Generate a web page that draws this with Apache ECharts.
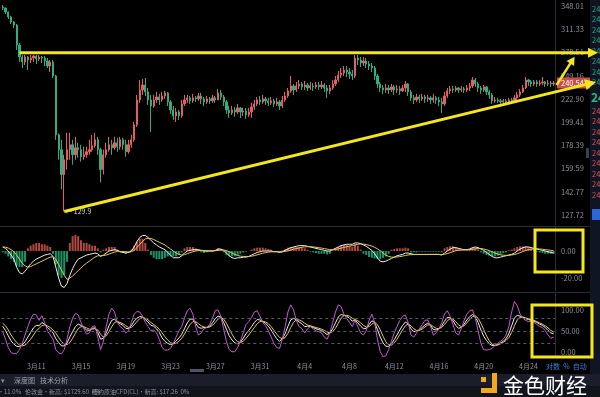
<!DOCTYPE html>
<html>
<head>
<meta charset="utf-8">
<script src="https://cdn.jsdelivr.net/npm/echarts@6/dist/echarts.min.js"></script>
<style>
html, body { margin: 0; padding: 0; background: #000; }
#main { width: 600px; height: 397px; }
</style>
</head>
<body>
<div id="main"></div>
<script>
// 6-hour candles from 3月8 00:00
var firstOpen = 346.4;
var closes = [
    344.8, 338.2, 330.2, 322.3, 317.7, 288.6, 272.5, 266.1, 272.5, 268.6,
    271.2, 273.8, 269.9, 272.5, 271.2, 267.3, 261.0, 266.1, 248.8, 187.6,
    174.7, 155.1, 166.5, 174.7, 178.9, 170.5, 176.3, 174.7, 168.9, 170.5,
    173.0, 174.7, 178.0, 183.2, 174.7, 158.8, 170.5, 174.7, 178.9, 176.3,
    180.6, 177.2, 183.2, 178.9, 173.0, 178.9, 183.2, 196.8, 221.8, 232.7,
    238.3, 230.5, 221.8, 215.5, 221.8, 225.0, 221.8, 226.1, 229.4, 219.7,
    211.4, 205.5, 209.4, 205.5, 217.6, 221.8, 224.0, 220.8, 224.0, 222.9,
    226.1, 222.9, 219.7, 222.9, 220.8, 224.0, 221.8, 229.4, 225.0, 219.7,
    211.4, 208.4, 211.4, 209.4, 213.5, 209.4, 210.4, 206.4, 209.4, 214.5,
    217.6, 221.8, 219.7, 222.9, 220.8, 218.7, 220.8, 217.6, 219.7, 215.5,
    221.8, 226.1, 231.6, 237.2, 232.7, 237.2, 239.5, 236.1, 238.3, 234.9,
    237.2, 236.1, 238.3, 236.1, 238.3, 234.9, 231.6, 234.9, 239.5, 244.1,
    250.0, 252.4, 256.1, 253.6, 251.2, 248.8, 271.2, 268.6, 264.8, 267.3,
    263.5, 261.0, 258.5, 248.8, 239.5, 234.9, 232.7, 234.9, 232.7, 236.1,
    232.7, 233.8, 231.6, 234.9, 239.5, 230.5, 224.0, 221.8, 225.0, 222.9,
    225.0, 222.9, 224.0, 221.8, 224.0, 221.8, 219.7, 217.6, 226.1, 231.6,
    233.8, 232.7, 234.9, 232.7, 233.8, 232.7, 234.9, 237.2, 244.1, 239.5,
    234.9, 232.7, 236.1, 230.5, 227.2, 220.8, 221.8, 220.8, 219.7, 220.8,
    219.7, 221.8, 220.8, 224.0, 227.2, 230.5, 234.9, 244.1, 241.8, 239.5,
    241.8, 239.5, 240.6, 241.8, 239.5, 240.6, 239.5, 240.54
];
var highs = [
    349.7, 344.8, 339.0, 331.8, 323.9, 319.2, 291.4, 275.1, 275.1, 273.8,
    275.1, 275.1, 275.1, 275.1, 273.8, 273.8, 271.2, 268.6, 268.6, 250.0,
    189.0, 183.2, 170.5, 189.4, 189.4, 183.2, 185.8, 180.6, 178.9, 177.2,
    177.2, 183.2, 187.6, 189.4, 185.8, 176.3, 174.7, 180.6, 185.8, 183.2,
    185.8, 184.9, 185.8, 184.9, 183.2, 183.2, 187.6, 199.6, 227.2, 244.1,
    245.3, 246.4, 234.9, 227.2, 227.2, 230.5, 228.3, 230.5, 231.6, 230.5,
    221.8, 215.5, 213.5, 211.4, 221.8, 227.2, 227.2, 226.1, 228.3, 226.1,
    229.4, 229.4, 225.0, 226.1, 225.0, 227.2, 226.1, 233.8, 232.7, 227.2,
    221.8, 215.5, 215.5, 214.5, 217.6, 214.5, 213.5, 213.5, 213.5, 218.7,
    221.8, 225.0, 226.1, 227.2, 225.0, 224.0, 225.0, 222.9, 224.0, 221.8,
    226.1, 230.5, 234.9, 248.8, 239.5, 241.8, 244.1, 241.8, 242.9, 240.6,
    241.8, 240.6, 241.8, 241.8, 242.9, 240.6, 238.3, 238.3, 244.1, 248.8,
    254.8, 258.5, 261.0, 261.0, 258.5, 256.1, 275.1, 275.1, 272.5, 272.5,
    271.2, 267.3, 264.8, 261.0, 251.2, 241.8, 238.3, 239.5, 238.3, 239.5,
    238.3, 238.3, 237.2, 238.3, 242.9, 240.6, 232.7, 227.2, 228.3, 227.2,
    228.3, 227.2, 227.2, 226.1, 228.3, 226.1, 225.0, 224.0, 230.5, 234.9,
    237.2, 237.2, 237.2, 236.1, 237.2, 236.1, 238.3, 240.6, 247.6, 246.4,
    241.8, 237.2, 238.3, 237.2, 232.7, 229.4, 225.0, 224.0, 222.9, 222.9,
    222.9, 224.0, 224.0, 227.2, 230.5, 233.8, 238.3, 247.6, 245.3, 244.1,
    244.1, 244.1, 244.1, 247.6, 242.9, 244.1, 242.9, 242.9
];
var lows = [
    341.5, 335.0, 327.0, 319.2, 313.2, 281.8, 266.1, 258.5, 262.3, 256.1,
    264.8, 266.1, 263.5, 267.3, 264.8, 261.0, 258.5, 253.6, 246.4, 183.2,
    166.5, 144.5, 129.9, 158.8, 166.5, 162.6, 166.5, 168.1, 165.0, 166.5,
    168.1, 170.5, 173.0, 176.3, 170.5, 149.3, 155.1, 168.1, 173.0, 170.5,
    174.7, 173.0, 174.7, 174.7, 168.9, 171.4, 176.3, 181.4, 194.9, 218.7,
    227.2, 226.1, 216.6, 190.3, 213.5, 218.7, 216.6, 219.7, 222.9, 215.5,
    207.4, 201.6, 199.6, 201.6, 203.5, 215.5, 218.7, 217.6, 218.7, 219.7,
    220.8, 217.6, 215.5, 217.6, 217.6, 218.7, 218.7, 221.8, 221.8, 215.5,
    207.4, 203.5, 206.4, 204.5, 207.4, 203.5, 205.5, 202.5, 204.5, 203.5,
    211.4, 215.5, 216.6, 217.6, 216.6, 215.5, 216.6, 214.5, 215.5, 211.4,
    213.5, 219.7, 224.0, 229.4, 227.2, 230.5, 233.8, 232.7, 232.7, 231.6,
    232.7, 231.6, 233.8, 232.7, 233.8, 230.5, 224.0, 228.3, 232.7, 237.2,
    241.8, 246.4, 248.8, 247.6, 245.3, 244.1, 246.4, 262.3, 259.8, 261.0,
    258.5, 256.1, 253.6, 244.1, 234.9, 230.5, 228.3, 229.4, 228.3, 230.5,
    227.2, 229.4, 227.2, 230.5, 230.5, 226.1, 220.8, 217.6, 219.7, 218.7,
    220.8, 218.7, 219.7, 217.6, 218.7, 217.6, 215.5, 208.4, 215.5, 224.0,
    228.3, 229.4, 230.5, 229.4, 230.5, 229.4, 230.5, 231.6, 234.9, 236.1,
    230.5, 228.3, 230.5, 227.2, 222.9, 217.6, 218.7, 218.7, 217.6, 218.7,
    217.6, 218.7, 218.7, 219.7, 221.8, 225.0, 229.4, 233.8, 237.2, 236.1,
    237.2, 236.1, 237.2, 238.3, 236.1, 237.2, 236.1, 237.2
];

// MACD
var difs = [
    3, 2, 0, -3, -6, -12, -16, -17, -15, -12,
    -9.5, -7.5, -6, -5, -4, -3, -2.5, -2, -4, -12,
    -20, -26, -27, -24, -18, -13, -9, -6, -5, -4,
    -3, -2.5, -2, -1.5, -2, -4, -3, -1.5, 0, 0.5,
    1, 0.5, -0.5, -1, -1.5, -1, 0, 3, 7, 10,
    11.5, 11.5, 10, 8, 6, 4.5, 3, 2, 1, -1,
    -3, -5, -5, -5, -3.5, -1.5, 0, 0.5, 1, 1,
    1, 0.5, 0, 0, 0, 0, 0.5, 1.5, 1.5, 0.5,
    -1.5, -3.5, -5, -5.5, -5, -5, -4.5, -4.5, -4, -3,
    -2, -1, -0.5, 0, 0, 0, 0, -0.5, -0.5, -1,
    -0.5, 0.5, 1.5, 2.5, 3, 3.5, 4, 4, 4, 3.5,
    3, 2.5, 2, 1.5, 1, 0.5, 0, 0, 1, 2,
    3, 4, 4.5, 5, 5, 5, 6, 6, 5.5, 4.5,
    3.5, 2, 0.5, -2, -5, -7.5, -8, -7.5, -6.5, -5.5,
    -4.5, -3.5, -3, -2.5, -1.5, -1.5, -2, -2.5, -2.5, -2.5,
    -2.5, -2.5, -2.5, -2.5, -2.5, -2.5, -2.5, -3, -1.5, 0,
    1.5, 2.5, 2.5, 2, 1.5, 1, 1, 1.5, 2.5, 3,
    2.5, 1.5, 0.5, -1, -2.5, -4, -5, -5, -4.5, -4,
    -3.5, -3, -2.5, -1.5, 0, 1.5, 2.5, 3, 3, 2.5,
    2, 1.5, 1, 0.5, 0, -0.5, -1, -1.5
];
var deas = [
    3, 2.8, 2.2, 1, -0.5, -3, -6, -9, -11, -12,
    -11.5, -10.5, -9.5, -8.5, -7.5, -6.5, -5.5, -4.5, -4.3, -6,
    -10, -14, -18, -21, -20, -18.5, -16.5, -14.5, -12.5, -10.5,
    -9, -7.5, -6, -4.5, -3.5, -3.5, -3.3, -3, -2.3, -1.5,
    -0.8, -0.3, -0.3, -0.4, -0.6, -0.8, -0.6, 0.5, 2.5, 5,
    7, 9, 9.5, 9.3, 8.5, 7.5, 6.5, 5.5, 4.5, 3,
    1.5, 0, -1.5, -2.5, -3, -2.7, -2, -1.2, -0.5, 0,
    0.3, 0.5, 0.4, 0.3, 0.2, 0.1, 0.2, 0.5, 0.8, 0.8,
    0.3, -0.5, -1.5, -2.5, -3.3, -3.8, -4, -4, -4, -3.8,
    -3.4, -2.8, -2.2, -1.6, -1.2, -0.8, -0.6, -0.5, -0.5, -0.6,
    -0.6, -0.3, 0.1, 0.7, 1.3, 1.8, 2.3, 2.8, 3.1, 3.2,
    3.2, 3, 2.8, 2.5, 2.2, 1.8, 1.4, 1, 1, 1.2,
    1.6, 2.1, 2.7, 3.2, 3.6, 4, 4.5, 5, 5.2, 5.1,
    4.8, 4.3, 3.7, 2.8, 1.6, 0.2, -1.5, -3, -4, -4.5,
    -4.6, -4.4, -4.1, -3.8, -3.3, -2.9, -2.7, -2.6, -2.6, -2.6,
    -2.6, -2.6, -2.6, -2.5, -2.5, -2.5, -2.5, -2.6, -2.4, -1.9,
    -1.2, -0.5, 0.2, 0.6, 0.8, 0.9, 0.9, 1, 1.3, 1.6,
    1.8, 1.8, 1.5, 1, 0.3, -0.5, -1.4, -2.2, -2.8, -3.1,
    -3.2, -3.1, -2.9, -2.6, -2, -1.2, -0.4, 0.4, 1, 1.4,
    1.6, 1.6, 1.5, 1.3, 1.1, 0.8, 0.5, 0.2
];
var macdHist = [
    -1, -2, -4, -6, -8, -11, -12, -12, -8, 2,
    4, 5, 6, 6, 5, 5, 4, 3, -2, -10,
    -18, -20, -18, -8, 6, 11, 12, 11, 8, 6,
    6, 5, 4, 4, 2, -1, 1, 2, 3, 3,
    3, 1, -1, -1.5, -2, -1, 1, 4, 7, 9,
    9, 6, 1, -3, -5, -6, -6, -6, -5, -4,
    -4, -4, -4, -3, -1, 2, 3, 3, 3, 2,
    1, -1, -1.5, -1, -0.5, -0.5, 0.5, 2, 1.5, -1,
    -3, -4, -4, -4, -3, -2, -1, -0.5, 0, 1,
    2, 2.5, 2.5, 2.5, 2, 1.5, 1, -0.5, -0.5, -1,
    0.5, 1.5, 2.5, 3, 3, 3, 3, 2.5, 2, 1,
    -0.5, -1, -1.5, -2, -2, -2, -2.5, -2, 0.5, 2,
    3, 4, 4.5, 4.5, 4, 3, 5, 4, 1, -2,
    -3, -4.5, -5, -5.5, -6, -6, -5, -4, -2, 1,
    1.5, 2, 2, 2, 2.5, 2, -1, -1, -1, -0.5,
    -0.5, -0.5, -0.5, -0.5, -0.5, -0.5, -0.5, -1, 2, 3,
    3.5, 3.5, 3, 2, 1, 0.5, 0.5, 1.5, 2.5, 2.5,
    1, -1, -2, -3, -3.5, -4, -4, -3.5, -2.5, -1.5,
    -1, 0.5, 1, 2, 3, 3.5, 3.5, 3.5, 3, 2,
    1, -0.5, -1, -1.5, -2, -2, -2, -2
];

// KDJ
var kValues = [
    61, 51, 38, 26, 18, 13, 12, 16, 24, 35,
    46, 57, 63, 62, 70, 66, 58, 52, 45, 31,
    22, 14, 14, 21, 35, 48, 60, 66, 63, 58,
    52, 51, 56, 57, 46, 30, 32, 45, 62, 75,
    78, 71, 67, 63, 56, 55, 62, 73, 80, 84,
    83, 77, 71, 63, 61, 55, 46, 33, 25, 20,
    17, 19, 25, 33, 41, 55, 69, 78, 78, 68,
    58, 56, 58, 58, 61, 69, 79, 85, 83, 70,
    54, 38, 28, 21, 19, 23, 32, 43, 51, 60,
    70, 77, 76, 72, 68, 61, 52, 41, 31, 25,
    31, 43, 61, 76, 80, 76, 71, 67, 60, 61,
    61, 58, 55, 53, 51, 46, 41, 45, 55, 69,
    83, 89, 87, 85, 80, 73, 76, 69, 61, 55,
    56, 65, 74, 70, 53, 35, 21, 13, 13, 19,
    29, 40, 52, 63, 71, 67, 55, 48, 49, 52,
    58, 64, 68, 63, 53, 52, 55, 62, 73, 82,
    81, 74, 63, 56, 58, 66, 76, 84, 89, 84,
    70, 52, 37, 27, 19, 15, 15, 17, 21, 25,
    31, 43, 62, 81, 87, 85, 82, 79, 77, 75,
    73, 70, 66, 63, 58, 51, 45, 43
];
var dValues = [
    68, 62, 52, 40, 30, 22, 16, 14, 16, 22,
    30, 40, 50, 56, 62, 64, 62, 58, 52, 44,
    34, 24, 18, 17, 22, 32, 44, 55, 60, 60,
    57, 54, 54, 55, 52, 42, 35, 38, 48, 60,
    70, 72, 70, 67, 62, 58, 58, 64, 72, 79,
    82, 80, 76, 70, 65, 60, 54, 45, 36, 28,
    22, 19, 20, 25, 32, 42, 54, 65, 72, 72,
    67, 62, 59, 58, 59, 63, 70, 78, 82, 78,
    68, 55, 42, 31, 24, 22, 25, 32, 40, 49,
    58, 67, 72, 73, 71, 67, 60, 51, 42, 34,
    31, 34, 44, 58, 70, 76, 76, 73, 68, 64,
    62, 60, 58, 56, 54, 51, 47, 45, 48, 56,
    68, 80, 86, 87, 85, 80, 77, 74, 69, 63,
    59, 60, 66, 70, 65, 52, 37, 24, 17, 16,
    21, 30, 41, 52, 62, 66, 62, 55, 51, 51,
    54, 59, 64, 65, 60, 56, 55, 58, 65, 74,
    79, 78, 72, 64, 60, 62, 69, 77, 84, 86,
    80, 68, 53, 38, 26, 18, 15, 16, 19, 22,
    27, 34, 46, 62, 76, 82, 83, 81, 79, 77,
    75, 72, 69, 66, 62, 57, 51, 47
];
var jValues = [
    48, 30, 10, -2, -5, -4, 5, 20, 40, 60,
    78, 90, 88, 75, 86, 70, 50, 40, 30, 5,
    -3, -5, 5, 30, 60, 80, 92, 88, 70, 55,
    42, 45, 60, 62, 35, 5, 25, 60, 90, 104,
    95, 70, 60, 55, 45, 50, 70, 90, 96, 95,
    85, 70, 60, 50, 52, 45, 30, 10, 4, 4,
    8, 20, 35, 50, 60, 80, 98, 104, 90, 60,
    40, 45, 55, 58, 65, 80, 98, 100, 85, 55,
    25, 5, 0, 0, 10, 25, 45, 65, 72, 82,
    95, 98, 85, 70, 62, 50, 35, 20, 10, 8,
    30, 60, 95, 112, 100, 75, 60, 55, 45, 55,
    60, 55, 50, 48, 45, 35, 30, 45, 70, 95,
    112, 108, 90, 80, 70, 60, 75, 60, 45, 40,
    50, 75, 90, 70, 30, 0, -12, -10, 5, 25,
    45, 60, 75, 85, 88, 70, 40, 35, 45, 55,
    65, 75, 76, 60, 40, 45, 55, 70, 90, 98,
    85, 65, 45, 40, 55, 75, 90, 98, 100, 80,
    50, 20, 5, 4, 5, 8, 15, 20, 25, 30,
    40, 60, 95, 120, 110, 90, 80, 75, 72, 72,
    70, 65, 60, 58, 50, 40, 32, 35
];

var priceTicks = [127.72, 142.77, 159.59, 178.39, 199.41, 222.90, 249.16, 278.51, 311.33, 348.01];
var macdTicks = [0, -20];
var kdjTicks = [0, 50, 100];
var kdjGuides = [20, 50, 80];
var resistance = 278.1;          // horizontal yellow line
var supportFrom = [22, 129.9];   // rising yellow line, through the low
var supportTo = [142, 192.2];

var categories = [];
for (var i = 0; i < closes.length; i++) {
    var d = new Date(2020, 2, 8, i * 6);
    categories.push((d.getMonth() + 1) + '月' + d.getDate() + ' ' + d.getHours() + ':00');
}

var candleData = closes.map(function (c, i) {
    var o = i === 0 ? firstOpen : closes[i - 1];
    return [Math.log(o), Math.log(c), Math.log(lows[i]), Math.log(highs[i])];
});

var UP = '#e25f62', DOWN = '#2fae84';
var YELLOW = '#f3e61e';
var LABEL = '#8d919c';
var FONT = '"Noto Sans CJK SC", "Noto Sans", sans-serif';

function catAxis(idx, showLabel) {
    return {
        type: 'category', gridIndex: idx, data: categories, boundaryGap: true,
        axisLine: { show: false }, axisTick: { show: false }, splitLine: { show: false },
        axisLabel: {
            show: showLabel, color: LABEL, fontSize: 7, margin: 5,
            interval: function (n) { return n % 16 === 12; },
            formatter: function (v) { return v.split(' ')[0]; }
        }
    };
}

var option = {
    backgroundColor: '#000',
    animation: false,
    textStyle: { fontFamily: FONT },
    grid: [
        { left: 1.3, right: 45, top: 0, height: 225 },
        { left: 1.3, right: 45, top: 227, height: 64 },
        { left: 1.3, right: 45, top: 294, height: 64 }
    ],
    xAxis: [catAxis(0, false), catAxis(1, false), catAxis(2, true)],
    yAxis: [
        {
            type: 'value', gridIndex: 0, position: 'right', scale: true,
            min: Math.log(121.74), max: Math.log(358.2),
            axisLine: { show: true, lineStyle: { color: '#2c2f3a' } },
            axisTick: { show: false }, splitLine: { show: false },
            axisLabel: {
                color: LABEL, fontSize: 7.5, margin: 6,
                customValues: priceTicks.map(Math.log),
                formatter: function (v) { return Math.exp(v).toFixed(2); }
            }
        },
        {
            type: 'value', gridIndex: 1, position: 'right', min: -29.6, max: 17.8,
            axisLine: { show: true, lineStyle: { color: '#2c2f3a' } },
            axisTick: { show: false }, splitLine: { show: false },
            axisLabel: {
                color: LABEL, fontSize: 7.5, margin: 6, customValues: macdTicks,
                formatter: function (v) { return v.toFixed(2); }
            }
        },
        {
            type: 'value', gridIndex: 2, position: 'right', min: -15, max: 138,
            axisLine: { show: true, lineStyle: { color: '#2c2f3a' } },
            axisTick: { show: false }, splitLine: { show: false },
            axisLabel: {
                color: LABEL, fontSize: 7.5, margin: 6, customValues: kdjTicks,
                formatter: function (v) { return v.toFixed(2); }
            }
        }
    ],
    series: [
        {
            type: 'candlestick', xAxisIndex: 0, yAxisIndex: 0, data: candleData,
            barWidth: '62%',
            itemStyle: { color: UP, color0: DOWN, borderColor: UP, borderColor0: DOWN, borderWidth: 1 },
            markPoint: {
                symbol: 'circle', symbolSize: 0,
                data: [{ type: 'min', valueDim: 'lowest' }],
                label: {
                    show: true, position: 'right', distance: 1, color: '#d8d8d8', fontSize: 7,
                    formatter: function (p) { return '← ' + Math.exp(p.value).toFixed(1); }
                }
            }
        },
        {
            type: 'bar', xAxisIndex: 1, yAxisIndex: 1, barWidth: '72%',
            data: macdHist.map(function (v) {
                return { value: v, itemStyle: { color: v >= 0 ? '#b04a41' : '#1c9467' } };
            })
        },
        {
            type: 'line', xAxisIndex: 1, yAxisIndex: 1, data: difs, showSymbol: false,
            lineStyle: { color: '#f0f0f0', width: 1 }
        },
        {
            type: 'line', xAxisIndex: 1, yAxisIndex: 1, data: deas, showSymbol: false,
            lineStyle: { color: '#e6c65c', width: 1 }
        },
        {
            type: 'line', xAxisIndex: 2, yAxisIndex: 2, data: kValues, showSymbol: false,
            lineStyle: { color: '#eeeeee', width: 1 },
            markLine: {
                silent: true, symbol: 'none', label: { show: false },
                lineStyle: { color: '#555a66', type: [3, 3], width: 1 },
                data: kdjGuides.map(function (v) { return { yAxis: v }; })
            }
        },
        {
            type: 'line', xAxisIndex: 2, yAxisIndex: 2, data: dValues, showSymbol: false,
            lineStyle: { color: '#e6c65c', width: 1 }
        },
        {
            type: 'line', xAxisIndex: 2, yAxisIndex: 2, data: jValues, showSymbol: false,
            lineStyle: { color: '#c45ad0', width: 1 }
        }
    ]
};

var chart = echarts.init(document.getElementById('main'), null, { renderer: 'canvas' });
chart.setOption(option);

function px(i, price) {
    return chart.convertToPixel({ gridIndex: 0 }, [i, Math.log(price)]);
}

function arrow(tail, tip, width, headLen, headW) {
    var dx = tip[0] - tail[0], dy = tip[1] - tail[1];
    var len = Math.sqrt(dx * dx + dy * dy);
    var ux = dx / len, uy = dy / len, nx = -uy, ny = ux;
    var bx = tip[0] - ux * headLen, by = tip[1] - uy * headLen;
    return [
        { type: 'line', z: 100, shape: { x1: tail[0], y1: tail[1], x2: bx + ux, y2: by + uy },
          style: { stroke: YELLOW, lineWidth: width } },
        { type: 'polygon', z: 100,
          shape: { points: [tip, [bx + nx * headW, by + ny * headW], [bx - nx * headW, by - ny * headW]] },
          style: { fill: YELLOW } }
    ];
}

var lastPrice = closes[closes.length - 1];
var hStart = px(6, resistance);
var sA = px(supportFrom[0], supportFrom[1]);
var sB = px(supportTo[0], supportTo[1]);
var tipX = 596;
var sTip = [tipX, sA[1] + (sB[1] - sA[1]) / (sB[0] - sA[0]) * (tipX - sA[0])];
var last = px(closes.length - 1, lastPrice);

var g = [];
// bottom bars and right book strip
g.push({ type: 'rect', z: 40, shape: { x: 0, y: 374, width: 600, height: 12 }, style: { fill: '#1b1e2a' } });
g.push({ type: 'rect', z: 40, shape: { x: 0, y: 386, width: 600, height: 11 }, style: { fill: '#12141c' } });
g.push({ type: 'rect', z: 40, shape: { x: 590, y: 0, width: 10, height: 374 }, style: { fill: '#0f1522' } });
g.push({ type: 'line', z: 41, shape: { x1: 0, y1: 226.5, x2: 590, y2: 226.5 }, style: { stroke: '#2a2d38', lineWidth: 1 } });
g.push({ type: 'line', z: 41, shape: { x1: 0, y1: 292.5, x2: 590, y2: 292.5 }, style: { stroke: '#2a2d38', lineWidth: 1 } });
g.push({ type: 'rect', z: 41, shape: { x: 190, y: 369, width: 14, height: 3 }, style: { fill: '#4c5466' } });
g.push({ type: 'rect', z: 41, shape: { x: 586, y: 148, width: 3, height: 10 }, style: { fill: '#3a4050' } });

// last price tag
g.push({ type: 'rect', z: 50, shape: { x: 557, y: last[1] - 5.5, width: 33, height: 11 }, style: { fill: '#c8524b' } });
g.push({ type: 'text', z: 51, style: { text: lastPrice.toFixed(2), x: 561, y: last[1], fill: '#ffffff', fontSize: 7.5, verticalAlign: 'middle', fontFamily: FONT } });

var bookGreen = [9, 19.5, 30, 40.5, 51, 61.5, 72, 82.5];
bookGreen.forEach(function (y) {
    g.push({ type: 'text', z: 45, style: { text: '24', x: 592, y: y, fill: '#2aa57f', fontSize: 7.5, verticalAlign: 'middle', fontFamily: FONT } });
});
g.push({ type: 'text', z: 45, style: { text: '24', x: 591, y: 97, fill: '#2fb389', fontSize: 12, fontWeight: 'bold', verticalAlign: 'middle', fontFamily: FONT } });
var bookRed = [111, 121.5, 132, 142.5, 153, 163.5, 174, 184.5, 195];
bookRed.forEach(function (y) {
    g.push({ type: 'text', z: 45, style: { text: '24', x: 592, y: y, fill: '#d9534f', fontSize: 7.5, verticalAlign: 'middle', fontFamily: FONT } });
});
g.push({ type: 'rect', z: 45, shape: { x: 592, y: 209, width: 8, height: 11 }, style: { fill: '#2a67d8' } });

// status texts
g.push({ type: 'text', z: 45, style: { text: '对数  %  自动', x: 546, y: 366, fill: '#3d7fe0', fontSize: 7, verticalAlign: 'middle', fontFamily: FONT } });
g.push({ type: 'text', z: 45, style: { text: '▾', x: 1, y: 380, fill: '#8d919c', fontSize: 7, verticalAlign: 'middle', fontFamily: FONT } });
g.push({ type: 'text', z: 45, style: { text: '深度图', x: 14, y: 380, fill: '#9aa0ad', fontSize: 7, verticalAlign: 'middle', fontFamily: FONT } });
g.push({ type: 'text', z: 45, style: { text: '技术分析', x: 40, y: 380, fill: '#9aa0ad', fontSize: 7, verticalAlign: 'middle', fontFamily: FONT } });
g.push({ type: 'text', z: 45, style: { text: '·11.0%', x: -2, y: 392, fill: '#8d919c', fontSize: 6, verticalAlign: 'middle', fontFamily: FONT } });
g.push({ type: 'text', z: 45, style: { text: '伦敦金·新高: $1729.60  0%', x: 25, y: 392, fill: '#8d919c', fontSize: 6, verticalAlign: 'middle', fontFamily: FONT } });
g.push({ type: 'text', z: 45, style: { text: '纽约原油CFD(CL)·新高: $17.26  0%', x: 92, y: 392, fill: '#8d919c', fontSize: 6, verticalAlign: 'middle', fontFamily: FONT } });

// watermark
g.push({ type: 'rect', z: 60, shape: { x: 481, y: 377, width: 5, height: 5 }, style: { fill: '#f2a81d' } });
g.push({ type: 'rect', z: 60, shape: { x: 492, y: 373, width: 5, height: 20 }, style: { fill: '#f2a81d' } });
g.push({ type: 'rect', z: 60, shape: { x: 481, y: 388, width: 16, height: 5 }, style: { fill: '#f2a81d' } });
g.push({ type: 'text', z: 60, style: { text: '金色财经', x: 503, y: 385, fill: '#ffffff', fontSize: 21, verticalAlign: 'middle', fontFamily: FONT } });

// yellow annotations
g = g.concat(arrow(hStart, [598, hStart[1]], 3, 10, 5));
g = g.concat(arrow(sA, sTip, 3, 11, 5.5));
g = g.concat(arrow([last[0] + 3, last[1] + 2], [last[0] + 21, hStart[1] + 4], 2.5, 8, 4.5));
g.push({ type: 'rect', z: 100, shape: { x: 535, y: 230, width: 48, height: 42 }, style: { fill: 'none', stroke: YELLOW, lineWidth: 3 } });
g.push({ type: 'rect', z: 100, shape: { x: 532, y: 305, width: 60, height: 52 }, style: { fill: 'none', stroke: YELLOW, lineWidth: 3 } });

chart.setOption({ graphic: g });
</script>
</body>
</html>
